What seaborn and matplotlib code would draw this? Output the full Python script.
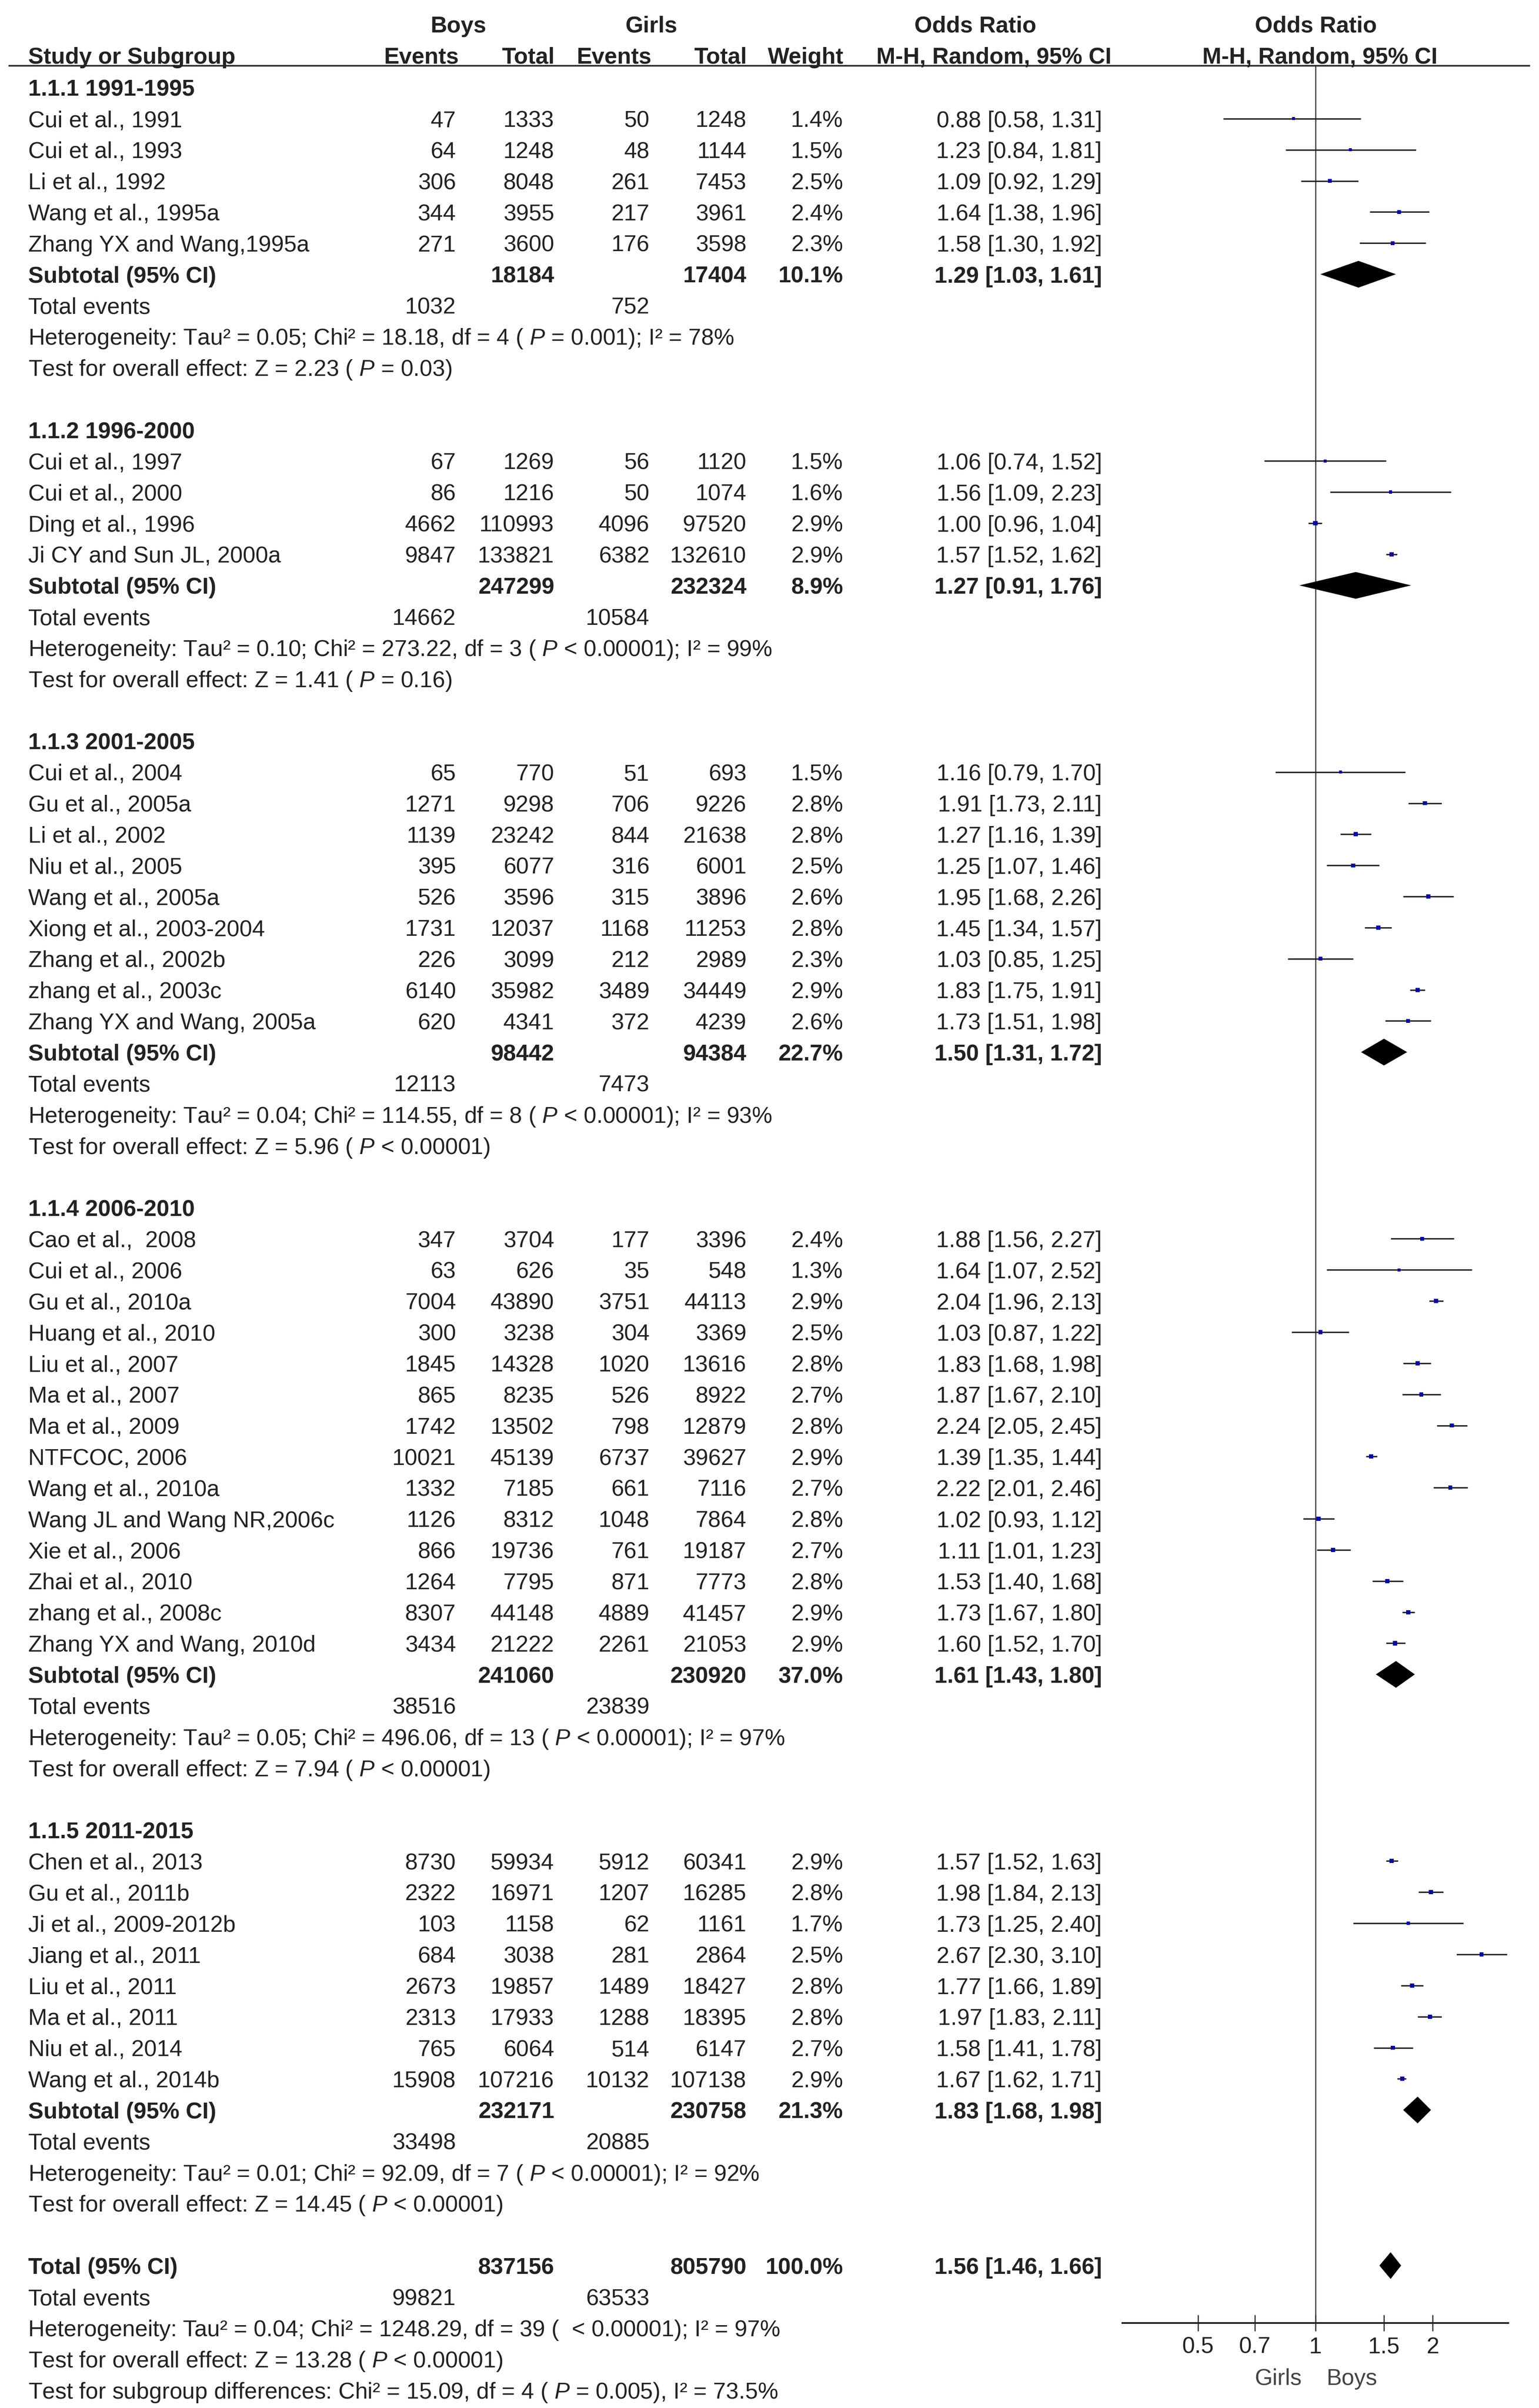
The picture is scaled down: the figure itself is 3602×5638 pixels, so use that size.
import matplotlib
matplotlib.use('Agg')
import matplotlib.pyplot as plt
from matplotlib.ticker import NullLocator
import seaborn as sns
import pandas as pd

# Datos del forest plot

subgroups = ['1.1.1 1991-1995', '1.1.2 1996-2000', '1.1.3 2001-2005',
             '1.1.4 2006-2010', '1.1.5 2011-2015']
group_sizes = [5, 4, 9, 14, 8]

studies = ['Cui et al., 1991', 'Cui et al., 1993', 'Li et al., 1992', 'Wang et al., 1995a',
           'Zhang YX and Wang,1995a',
           'Cui et al., 1997', 'Cui et al., 2000', 'Ding et al., 1996', 'Ji CY and Sun JL, 2000a',
           'Cui et al., 2004', 'Gu et al., 2005a', 'Li et al., 2002', 'Niu et al., 2005',
           'Wang et al., 2005a', 'Xiong et al., 2003-2004', 'Zhang et al., 2002b',
           'zhang et al., 2003c', 'Zhang YX and Wang, 2005a',
           'Cao et al.,  2008', 'Cui et al., 2006', 'Gu et al., 2010a', 'Huang et al., 2010',
           'Liu et al., 2007', 'Ma et al., 2007', 'Ma et al., 2009', 'NTFCOC, 2006',
           'Wang et al., 2010a', 'Wang JL and Wang NR,2006c', 'Xie et al., 2006',
           'Zhai et al., 2010', 'zhang et al., 2008c', 'Zhang YX and Wang, 2010d',
           'Chen et al., 2013', 'Gu et al., 2011b', 'Ji et al., 2009-2012b', 'Jiang et al., 2011',
           'Liu et al., 2011', 'Ma et al., 2011', 'Niu et al., 2014', 'Wang et al., 2014b']
boys_events = [47, 64, 306, 344, 271,
               67, 86, 4662, 9847,
               65, 1271, 1139, 395, 526, 1731, 226, 6140, 620,
               347, 63, 7004, 300, 1845, 865, 1742, 10021, 1332, 1126, 866, 1264, 8307, 3434,
               8730, 2322, 103, 684, 2673, 2313, 765, 15908]
boys_total = [1333, 1248, 8048, 3955, 3600,
              1269, 1216, 110993, 133821,
              770, 9298, 23242, 6077, 3596, 12037, 3099, 35982, 4341,
              3704, 626, 43890, 3238, 14328, 8235, 13502, 45139, 7185, 8312, 19736, 7795, 44148, 21222,
              59934, 16971, 1158, 3038, 19857, 17933, 6064, 107216]
girls_events = [50, 48, 261, 217, 176,
                56, 50, 4096, 6382,
                51, 706, 844, 316, 315, 1168, 212, 3489, 372,
                177, 35, 3751, 304, 1020, 526, 798, 6737, 661, 1048, 761, 871, 4889, 2261,
                5912, 1207, 62, 281, 1489, 1288, 514, 10132]
girls_total = [1248, 1144, 7453, 3961, 3598,
               1120, 1074, 97520, 132610,
               693, 9226, 21638, 6001, 3896, 11253, 2989, 34449, 4239,
               3396, 548, 44113, 3369, 13616, 8922, 12879, 39627, 7116, 7864, 19187, 7773, 41457, 21053,
               60341, 16285, 1161, 2864, 18427, 18395, 6147, 107138]
weights = [1.4, 1.5, 2.5, 2.4, 2.3,
           1.5, 1.6, 2.9, 2.9,
           1.5, 2.8, 2.8, 2.5, 2.6, 2.8, 2.3, 2.9, 2.6,
           2.4, 1.3, 2.9, 2.5, 2.8, 2.7, 2.8, 2.9, 2.7, 2.8, 2.7, 2.8, 2.9, 2.9,
           2.9, 2.8, 1.7, 2.5, 2.8, 2.8, 2.7, 2.9]
odds = [0.88, 1.23, 1.09, 1.64, 1.58,
        1.06, 1.56, 1.00, 1.57,
        1.16, 1.91, 1.27, 1.25, 1.95, 1.45, 1.03, 1.83, 1.73,
        1.88, 1.64, 2.04, 1.03, 1.83, 1.87, 2.24, 1.39, 2.22, 1.02, 1.11, 1.53, 1.73, 1.60,
        1.57, 1.98, 1.73, 2.67, 1.77, 1.97, 1.58, 1.67]
ci_low = [0.58, 0.84, 0.92, 1.38, 1.30,
          0.74, 1.09, 0.96, 1.52,
          0.79, 1.73, 1.16, 1.07, 1.68, 1.34, 0.85, 1.75, 1.51,
          1.56, 1.07, 1.96, 0.87, 1.68, 1.67, 2.05, 1.35, 2.01, 0.93, 1.01, 1.40, 1.67, 1.52,
          1.52, 1.84, 1.25, 2.30, 1.66, 1.83, 1.41, 1.62]
ci_high = [1.31, 1.81, 1.29, 1.96, 1.92,
           1.52, 2.23, 1.04, 1.62,
           1.70, 2.11, 1.39, 1.46, 2.26, 1.57, 1.25, 1.91, 1.98,
           2.27, 2.52, 2.13, 1.22, 1.98, 2.10, 2.45, 1.44, 2.46, 1.12, 1.23, 1.68, 1.80, 1.70,
           1.63, 2.13, 2.40, 3.10, 1.89, 2.11, 1.78, 1.71]

sub_boys_total = [18184, 247299, 98442, 241060, 232171]
sub_girls_total = [17404, 232324, 94384, 230920, 230758]
sub_weight = [10.1, 8.9, 22.7, 37.0, 21.3]
sub_odds = [1.29, 1.27, 1.50, 1.61, 1.83]
sub_low = [1.03, 0.91, 1.31, 1.43, 1.68]
sub_high = [1.61, 1.76, 1.72, 1.80, 1.98]
sub_boys_events = [1032, 14662, 12113, 38516, 33498]
sub_girls_events = [752, 10584, 7473, 23839, 20885]
sub_heterogeneity = [
    'Heterogeneity: Tau² = 0.05; Chi² = 18.18, df = 4 ( $P$ = 0.001); I² = 78%',
    'Heterogeneity: Tau² = 0.10; Chi² = 273.22, df = 3 ( $P$ < 0.00001); I² = 99%',
    'Heterogeneity: Tau² = 0.04; Chi² = 114.55, df = 8 ( $P$ < 0.00001); I² = 93%',
    'Heterogeneity: Tau² = 0.05; Chi² = 496.06, df = 13 ( $P$ < 0.00001); I² = 97%',
    'Heterogeneity: Tau² = 0.01; Chi² = 92.09, df = 7 ( $P$ < 0.00001); I² = 92%']
sub_overall = [
    'Test for overall effect: Z = 2.23 ( $P$ = 0.03)',
    'Test for overall effect: Z = 1.41 ( $P$ = 0.16)',
    'Test for overall effect: Z = 5.96 ( $P$ < 0.00001)',
    'Test for overall effect: Z = 7.94 ( $P$ < 0.00001)',
    'Test for overall effect: Z = 14.45 ( $P$ < 0.00001)']

total_boys_total = 837156
total_girls_total = 805790
total_weight = 100.0
total_odds, total_low, total_high = 1.56, 1.46, 1.66
total_boys_events = 99821
total_girls_events = 63533
total_heterogeneity = 'Heterogeneity: Tau² = 0.04; Chi² = 1248.29, df = 39 (  < 0.00001); I² = 97%'
total_overall = 'Test for overall effect: Z = 13.28 ( $P$ < 0.00001)'
subgroup_diff = 'Test for subgroup differences: Chi² = 15.09, df = 4 ( $P$ = 0.005), I² = 73.5%'

ticks = [0.5, 0.7, 1, 1.5, 2]
tick_labels = ['0.5', '0.7', '1', '1.5', '2']

# Estilo
sns.set_theme(style='white')
plt.rcParams['font.family'] = ['Liberation Sans', 'DejaVu Sans']
plt.rcParams['mathtext.fontset'] = 'custom'
plt.rcParams['mathtext.rm'] = 'Liberation Sans'
plt.rcParams['mathtext.it'] = 'Liberation Sans:italic'

W, H = 3602, 5638
ROW0, ROWH = 205, 72.85
FS = 38.5
BASE = 0.27
TXT = '#222222'
AZUL = '#0b0b9c'


def fila(px):
    # pasa de píxel vertical a unidades de fila
    return (px - ROW0) / ROWH


# columnas (borde derecho de cada columna en píxeles)
X_LABEL = 66
BE_R, BT_R, GE_R, GT_R, W_R, OR_R = 1067, 1297, 1520, 1747, 1973, 2579

fig = plt.figure(figsize=(W / 100, H / 100), dpi=100)
ax = fig.add_axes([0, 0, 1, 1])
ax.set_xlim(0, W)
ax.set_ylim(fila(H), fila(0))
ax.axis('off')

fax = fig.add_axes([2627 / W, 0, (3530 - 2627) / W, 1])
fax.set_xscale('log')
fax.set_xlim(0.32, 3.125)
fax.set_ylim(fila(H), fila(0))
fax.patch.set_alpha(0)


def texto(x, r, s, ha='left', bold=False, color=TXT):
    ax.text(x, r + BASE, s, ha=ha, va='baseline', fontsize=FS,
            fontweight='bold' if bold else 'normal', color=color)


def fmt_or(o, lo, hi):
    return f'{o:.2f} [{lo:.2f}, {hi:.2f}]'


# Cabecera
r1 = fila(76) - BASE
r2 = fila(149) - BASE
texto(1073, r1, 'Boys', ha='center', bold=True)
texto(1525, r1, 'Girls', ha='center', bold=True)
texto(2283, r1, 'Odds Ratio', ha='center', bold=True)
texto(3080, r1, 'Odds Ratio', ha='center', bold=True)
texto(X_LABEL, r2, 'Study or Subgroup', bold=True)
texto(1074, r2, 'Events', ha='right', bold=True)
texto(1298, r2, 'Total', ha='right', bold=True)
texto(1525, r2, 'Events', ha='right', bold=True)
texto(1748, r2, 'Total', ha='right', bold=True)
texto(1974, r2, 'Weight', ha='right', bold=True)
texto(2326, r2, 'M-H, Random, 95% CI', ha='center', bold=True)
texto(3089, r2, 'M-H, Random, 95% CI', ha='center', bold=True)
ax.hlines(fila(154), 20, 3581, color=TXT, lw=2.6)

# Filas de estudios y subtotales
study_rows = []
diamonds = []
r = 0
k = 0
for g, n in enumerate(group_sizes):
    texto(X_LABEL, r, subgroups[g], bold=True)
    r += 1
    for i in range(n):
        texto(X_LABEL, r, studies[k])
        texto(BE_R, r, str(boys_events[k]), ha='right')
        texto(BT_R, r, str(boys_total[k]), ha='right')
        texto(GE_R, r, str(girls_events[k]), ha='right')
        texto(GT_R, r, str(girls_total[k]), ha='right')
        texto(W_R, r, f'{weights[k]:.1f}%', ha='right')
        texto(OR_R, r, fmt_or(odds[k], ci_low[k], ci_high[k]), ha='right')
        study_rows.append(r)
        k += 1
        r += 1
    texto(X_LABEL, r, 'Subtotal (95% CI)', bold=True)
    texto(BT_R, r, str(sub_boys_total[g]), ha='right', bold=True)
    texto(GT_R, r, str(sub_girls_total[g]), ha='right', bold=True)
    texto(W_R, r, f'{sub_weight[g]:.1f}%', ha='right', bold=True)
    texto(OR_R, r, fmt_or(sub_odds[g], sub_low[g], sub_high[g]), ha='right', bold=True)
    diamonds.append((r, sub_low[g], sub_odds[g], sub_high[g]))
    r += 1
    texto(X_LABEL, r, 'Total events')
    texto(BE_R, r, str(sub_boys_events[g]), ha='right')
    texto(GE_R, r, str(sub_girls_events[g]), ha='right')
    r += 1
    texto(X_LABEL, r, sub_heterogeneity[g])
    r += 1
    texto(X_LABEL, r, sub_overall[g])
    r += 2

# Total global
texto(X_LABEL, r, 'Total (95% CI)', bold=True)
texto(BT_R, r, str(total_boys_total), ha='right', bold=True)
texto(GT_R, r, str(total_girls_total), ha='right', bold=True)
texto(W_R, r, f'{total_weight:.1f}%', ha='right', bold=True)
texto(OR_R, r, fmt_or(total_odds, total_low, total_high), ha='right', bold=True)
diamonds.append((r, total_low, total_odds, total_high))
r += 1
texto(X_LABEL, r, 'Total events')
texto(BE_R, r, str(total_boys_events), ha='right')
texto(GE_R, r, str(total_girls_events), ha='right')
r += 1
texto(X_LABEL, r, total_heterogeneity)
r += 1
texto(X_LABEL, r, total_overall)
r += 1
texto(X_LABEL, r, subgroup_diff)

# Forest plot
df = pd.DataFrame({'row': study_rows, 'odds': odds, 'low': ci_low,
                   'high': ci_high, 'weight': weights})
fax.hlines(df['row'], df['low'], df['high'], color=TXT, lw=2.4, zorder=2)
sns.scatterplot(data=df, x='odds', y='row', size='weight', sizes=(23, 52),
                size_norm=(1.3, 2.9), marker='s', color=AZUL, linewidth=0,
                legend=False, ax=fax, zorder=3)

h = 0.43
for (rr, lo, mid, hi) in diamonds:
    fax.fill([lo, mid, hi, mid], [rr, rr - h, rr, rr + h], color='black', lw=0, zorder=3)

y_axis = fila(5439)
fax.vlines(1, fila(154), y_axis, color='#333333', lw=1.8, zorder=1)

for s in ['top', 'left', 'right']:
    fax.spines[s].set_visible(False)
fax.spines['bottom'].set_position(('data', y_axis))
fax.spines['bottom'].set_linewidth(3)
fax.spines['bottom'].set_color(TXT)
fax.set_xticks(ticks)
fax.set_xticklabels(tick_labels)
fax.xaxis.set_minor_locator(NullLocator())
fax.set_yticks([])
fax.set_xlabel('')
fax.set_ylabel('')
fax.tick_params(axis='x', direction='inout', length=28, width=1.8, pad=9,
                labelsize=FS, colors=TXT, bottom=True)

ax.text(3047, fila(5584), 'Girls', ha='right', va='baseline', fontsize=FS, color='#444444')
ax.text(3105, fila(5584), 'Boys', ha='left', va='baseline', fontsize=FS, color='#444444')

plt.savefig('out.png', dpi=100, facecolor='white')
